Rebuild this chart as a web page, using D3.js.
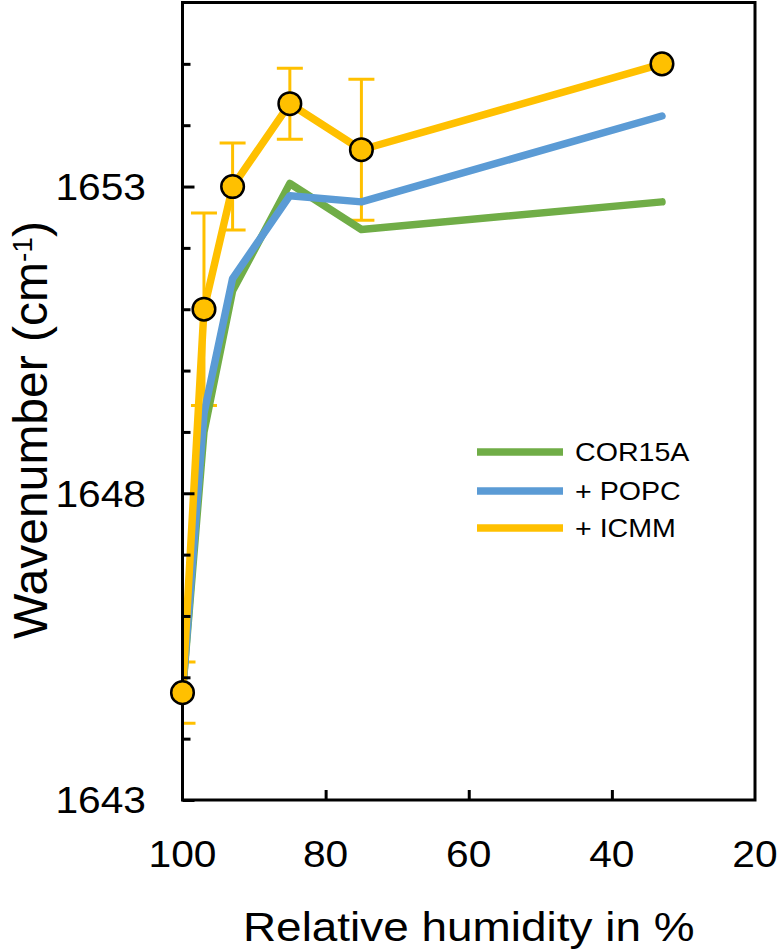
<!DOCTYPE html>
<html>
<head>
<meta charset="utf-8">
<script src="https://cdn.jsdelivr.net/npm/d3@7"></script>
<style>
  html, body { margin: 0; padding: 0; background: #fff; }
  svg { display: block; }
  text { font-family: "Liberation Sans", Arial, sans-serif; fill: #000; }
</style>
</head>
<body>
<svg id="chart" width="778" height="951"></svg>
<script>
// ---- data ----
const humidity = [100, 97, 93, 85, 75, 33];
const cor15a   = [1644.75, 1649.0, 1651.3, 1653.05, 1652.3, 1652.75];
const popc     = [1644.75, 1649.3, 1651.5, 1652.85, 1652.75, 1654.15];
const icmm     = [1644.75, 1651.0, 1653.0, 1654.35, 1653.6, 1655.0];
const icmmErr  = [0.5, 1.57, 0.71, 0.58, 1.15, 0];
const xTickValues = [100, 80, 60, 40, 20];
const yLabelValues = [1643, 1648, 1653];
const yMinorValues = [1644, 1645, 1646, 1647, 1649, 1650, 1651, 1652, 1654, 1655];
const seriesNames = ["COR15A", "+ POPC", "+ ICMM"];
const seriesColors = ["#70AD47", "#5B9BD5", "#FFC000"];

// ---- layout ----
const pL = 182.5, pR = 755, pT = 2.5, pB = 800;
const sx = 1.1; // horizontal text stretch seen in the reference
const svg = d3.select("#chart");
const x = d3.scaleLinear().domain([100, 20]).range([pL, pR]);
const y = d3.scaleLinear().domain([1643, 1656]).range([pB, pT]);

svg.append("defs").append("clipPath").attr("id", "plotclip")
  .append("rect").attr("x", pL).attr("y", pT).attr("width", pR - pL).attr("height", pB - pT);

const plot = svg.append("g").attr("clip-path", "url(#plotclip)");

// error bars (ICMM)
const capHalf = 13;
const eb = plot.append("g").attr("stroke", seriesColors[2]).attr("stroke-width", 3).attr("fill", "none");
humidity.forEach((h, i) => {
  if (!icmmErr[i]) return;
  const cx = x(h), y1 = y(icmm[i] + icmmErr[i]), y2 = y(icmm[i] - icmmErr[i]);
  eb.append("line").attr("x1", cx).attr("x2", cx).attr("y1", y1).attr("y2", y2);
  eb.append("line").attr("x1", cx - capHalf).attr("x2", cx + capHalf).attr("y1", y1).attr("y2", y1);
  eb.append("line").attr("x1", cx - capHalf).attr("x2", cx + capHalf).attr("y1", y2).attr("y2", y2);
});

// lines
const line = d3.line().x(d => x(d[0])).y(d => y(d[1]));
[cor15a, popc, icmm].forEach((vals, si) => {
  plot.append("path")
    .datum(humidity.map((h, i) => [h, vals[i]]))
    .attr("d", line)
    .attr("fill", "none")
    .attr("stroke", seriesColors[si])
    .attr("stroke-width", 7.5)
    .attr("stroke-linejoin", "round")
    .attr("stroke-linecap", "round");
});

// axes / frame
const axisG = svg.append("g");
axisG.append("rect").attr("x", pL).attr("y", pT).attr("width", pR - pL).attr("height", pB - pT)
  .attr("fill", "none").attr("stroke", "#000").attr("stroke-width", 3);

const yAxisMajor = d3.axisRight(y).tickValues(yLabelValues).tickSize(12).tickFormat("");
const yAxisMinor = d3.axisRight(y).tickValues(yMinorValues).tickSize(8).tickFormat("");
[yAxisMajor, yAxisMinor].forEach(ax => {
  const g = axisG.append("g").attr("transform", `translate(${pL},0)`).call(ax);
  g.select(".domain").remove();
  g.selectAll("line").attr("stroke", "#000").attr("stroke-width", 3);
});
const xAxisTicks = d3.axisTop(x).tickValues(xTickValues.filter(v => v !== 100 && v !== 20)).tickSize(10).tickFormat("");
{
  const g = axisG.append("g").attr("transform", `translate(0,${pB})`).call(xAxisTicks);
  g.select(".domain").remove();
  g.selectAll("line").attr("stroke", "#000").attr("stroke-width", 3);
}

// markers
svg.append("g").selectAll("circle")
  .data(humidity.map((h, i) => [h, icmm[i]]))
  .join("circle")
  .attr("cx", d => x(d[0])).attr("cy", d => y(d[1])).attr("r", 11.3)
  .attr("fill", seriesColors[2]).attr("stroke", "#000").attr("stroke-width", 2.5);

// tick labels
svg.append("g").selectAll("text")
  .data(yLabelValues).join("text")
  .attr("transform", d => `translate(146,${y(d)}) scale(${sx},1)`)
  .attr("dy", "0.36em")
  .attr("text-anchor", "end").attr("font-size", 37)
  .text(d => d);
svg.append("g").selectAll("text")
  .data(xTickValues).join("text")
  .attr("transform", d => `translate(${x(d)},867) scale(${sx},1)`)
  .attr("text-anchor", "middle").attr("font-size", 37)
  .text(d => d);

// axis titles
svg.append("text")
  .attr("transform", `translate(${(pL + pR) / 2},941) scale(1.12,1)`)
  .attr("text-anchor", "middle").attr("font-size", 41)
  .text("Relative humidity in %");
const yt = svg.append("text")
  .attr("transform", `translate(47,430) rotate(-90)`)
  .attr("text-anchor", "middle").attr("font-size", 48);
yt.append("tspan").text("Wavenumber (cm");
yt.append("tspan").attr("font-size", 28).attr("dy", -15).text("-1");
yt.append("tspan").attr("dy", 15).text(")");

// legend
const legend = svg.append("g");
const legendY = [452, 491, 528];
seriesNames.forEach((name, i) => {
  legend.append("line").attr("x1", 477).attr("x2", 563).attr("y1", legendY[i]).attr("y2", legendY[i])
    .attr("stroke", seriesColors[i]).attr("stroke-width", 7.5);
  legend.append("text")
    .attr("transform", `translate(575,${legendY[i]}) scale(${sx},1)`)
    .attr("dy", "0.36em")
    .attr("font-size", 26).text(name);
});
</script>
</body>
</html>
